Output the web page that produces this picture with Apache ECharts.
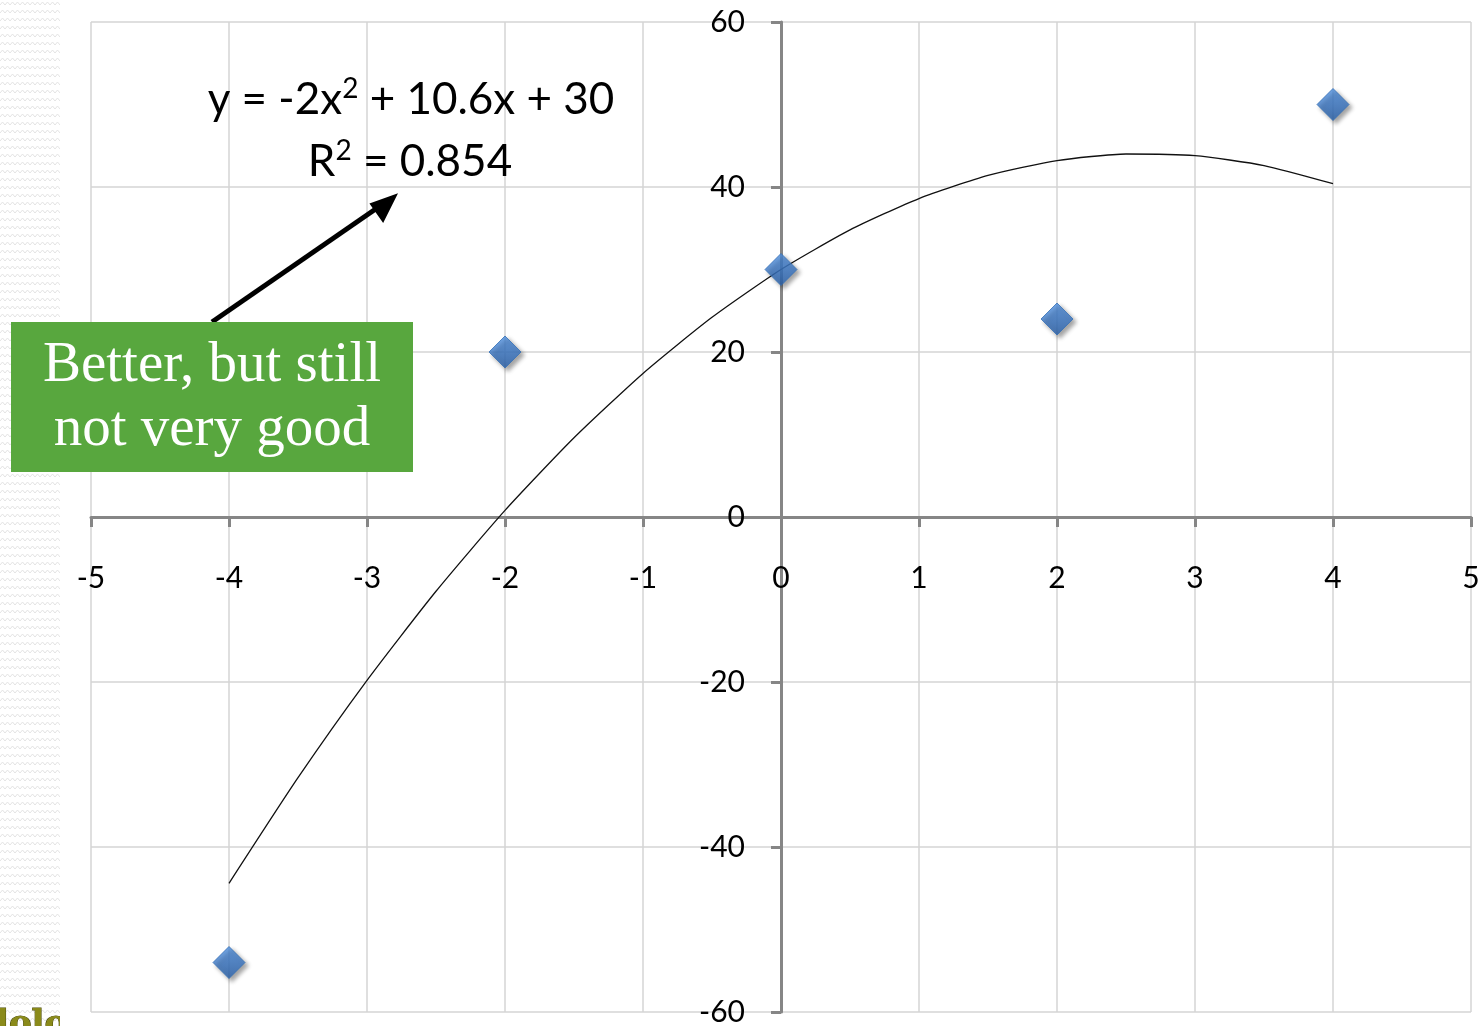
<!DOCTYPE html>
<html><head><meta charset="utf-8">
<script src="https://cdn.jsdelivr.net/npm/echarts@6/dist/echarts.min.js"></script>
<style>html,body{margin:0;padding:0;background:#fff}#c{width:1484px;height:1026px}</style>
</head><body><div id="c"></div>
<script>
// Data points
const pointX = [-4, -2, 0, 2, 4];
const pointY = [-54, 20, 30, 24, 50];
// Trendline samples
const trendX = [-4, -3.5, -3, -2.5, -2, -1.5, -1, -0.5, 0, 0.5, 1, 1.5, 2, 2.5, 3, 3.5, 4];
const trendY = [-44.4, -31.6, -19.8, -9, 0.8, 9.6, 17.4, 24.2, 30, 34.8, 38.6, 41.4, 43.2, 44, 43.8, 42.6, 40.4];
const eqLine1 = ['y = -2x', '2', ' + 10.6x + 30'];
const eqLine2 = ['R', '2', ' = 0.854'];
const noteLines = ['Better, but still', 'not very good'];

const chart = echarts.init(document.getElementById('c'), null, {renderer: 'canvas'});

// subtle wavy texture for left margin
const pc = document.createElement('canvas');
pc.width = 10; pc.height = 8;
const pctx = pc.getContext('2d');
pctx.fillStyle = '#ffffff'; pctx.fillRect(0, 0, 10, 8);
pctx.strokeStyle = '#e4e4e4'; pctx.lineWidth = 1;
pctx.beginPath(); pctx.moveTo(0, 5); pctx.lineTo(2.5, 2); pctx.lineTo(5, 5); pctx.lineTo(7.5, 2); pctx.lineTo(10, 5); pctx.stroke();

const font = 'Lato, "Open Sans", sans-serif';
const gridL = 91, gridR = 13, gridT = 22, gridB = 14;
const W = 1484, H = 1026;
const plotW = W - gridL - gridR, plotH = H - gridT - gridB;
// axes cross at zero: offset each axis from its grid edge to the zero line
const xMin = -5, xMax = 5, yMin = -60, yMax = 60;
const xOffset = -plotH * (0 - yMin) / (yMax - yMin);
const yOffset = -plotW * (0 - xMin) / (xMax - xMin);

chart.setOption({
  animation: false,
  backgroundColor: '#ffffff',
  grid: {left: gridL, right: gridR, top: gridT, bottom: gridB, containLabel: false, outerBoundsMode: 'none'},
  xAxis: {
    type: 'value', min: xMin, max: xMax, interval: 1, position: 'bottom', offset: xOffset,
    axisLine: {onZero: false, lineStyle: {color: '#868686', width: 3}},
    axisTick: {show: true, inside: false, length: 10, lineStyle: {color: '#868686', width: 3}},
    axisLabel: {margin: 46, color: '#000', fontSize: 30, fontFamily: font},
    splitLine: {show: true, lineStyle: {color: '#d4d4d4', width: 1.5}}
  },
  yAxis: {
    type: 'value', min: yMin, max: yMax, interval: 20, position: 'left', offset: yOffset,
    axisLine: {onZero: false, lineStyle: {color: '#868686', width: 3}},
    axisTick: {show: true, inside: false, length: 10, lineStyle: {color: '#868686', width: 3}},
    axisLabel: {margin: 36, color: '#000', fontSize: 30, fontFamily: font},
    splitLine: {show: true, lineStyle: {color: '#d4d4d4', width: 1.5}}
  },
  series: [
    {
      type: 'line', data: trendX.map((x, i) => [x, trendY[i]]),
      smooth: 0.2, symbol: 'none', lineStyle: {color: '#111', width: 1.3}, z: 3
    },
    {
      type: 'scatter', data: pointX.map((x, i) => [x, pointY[i]]),
      symbol: 'diamond', symbolSize: [32, 32],
      itemStyle: {
        color: new echarts.graphic.LinearGradient(0, 0, 0, 1, [
          {offset: 0, color: '#4f90e0'}, {offset: 1, color: '#2a62ad'}
        ]),
        borderColor: '#3570b8', borderWidth: 1,
        shadowColor: 'rgba(0,0,0,0.45)', shadowBlur: 4, shadowOffsetX: 3, shadowOffsetY: 3
      },
      z: 4
    }
  ],
  graphic: [
    {type: 'rect', left: 0, top: 0, z: -10, silent: true,
     shape: {x: 0, y: 0, width: 60, height: 1026},
     style: {fill: {image: pc, repeat: 'repeat'}}},
    {type: 'text', x: -4, y: 1008, z: 10, silent: true,
     style: {text: 'lolo', font: 'bold 34px "DejaVu Serif", serif', fill: '#8a8a1a', stroke: '#4a4a0a', lineWidth: 1}},
    {type: 'rect', z: 11, silent: true,
     shape: {x: 60, y: 1000, width: 30, height: 26},
     style: {fill: '#ffffff'}},
    // equation
    {type: 'text', x: 411, y: 100, z: 20, silent: true,
     style: {
       text: '{n|' + eqLine1[0] + '}{s|' + eqLine1[1] + '}{n|' + eqLine1[2] + '}',
       align: 'center', verticalAlign: 'middle',
       rich: {
         n: {fontSize: 44, fontFamily: font, fill: '#000', lineHeight: 50},
         s: {fontSize: 28, fontFamily: font, fill: '#000', verticalAlign: 'top', lineHeight: 50, padding: [0, 0, 20, 0]}
       }
     }},
    {type: 'text', x: 410, y: 162, z: 20, silent: true,
     style: {
       text: '{n|' + eqLine2[0] + '}{s|' + eqLine2[1] + '}{n|' + eqLine2[2] + '}',
       align: 'center', verticalAlign: 'middle',
       rich: {
         n: {fontSize: 44, fontFamily: font, fill: '#000', lineHeight: 50},
         s: {fontSize: 28, fontFamily: font, fill: '#000', verticalAlign: 'top', lineHeight: 50, padding: [0, 0, 20, 0]}
       }
     }},
    // arrow
    {type: 'line', z: 20, silent: true,
     shape: {x1: 212, y1: 322, x2: 380, y2: 206},
     style: {stroke: '#000', lineWidth: 5}},
    {type: 'polygon', z: 20, silent: true,
     shape: {points: [[396, 195], [383, 221], [371, 204]]},
     style: {fill: '#000', stroke: '#000', lineWidth: 2, lineJoin: 'miter'}},
    // green note
    {type: 'rect', z: 21, silent: true,
     shape: {x: 11, y: 322, width: 402, height: 150},
     style: {fill: '#58a73e'}},
    {type: 'text', x: 212, y: 366, z: 22, silent: true,
     style: {text: noteLines[0], align: 'center', verticalAlign: 'middle',
             font: '57px "Liberation Serif", "DejaVu Serif", serif', fill: '#ffffff'}},
    {type: 'text', x: 212, y: 430, z: 22, silent: true,
     style: {text: noteLines[1], align: 'center', verticalAlign: 'middle',
             font: '57px "Liberation Serif", "DejaVu Serif", serif', fill: '#ffffff'}}
  ]
});
</script></body></html>
